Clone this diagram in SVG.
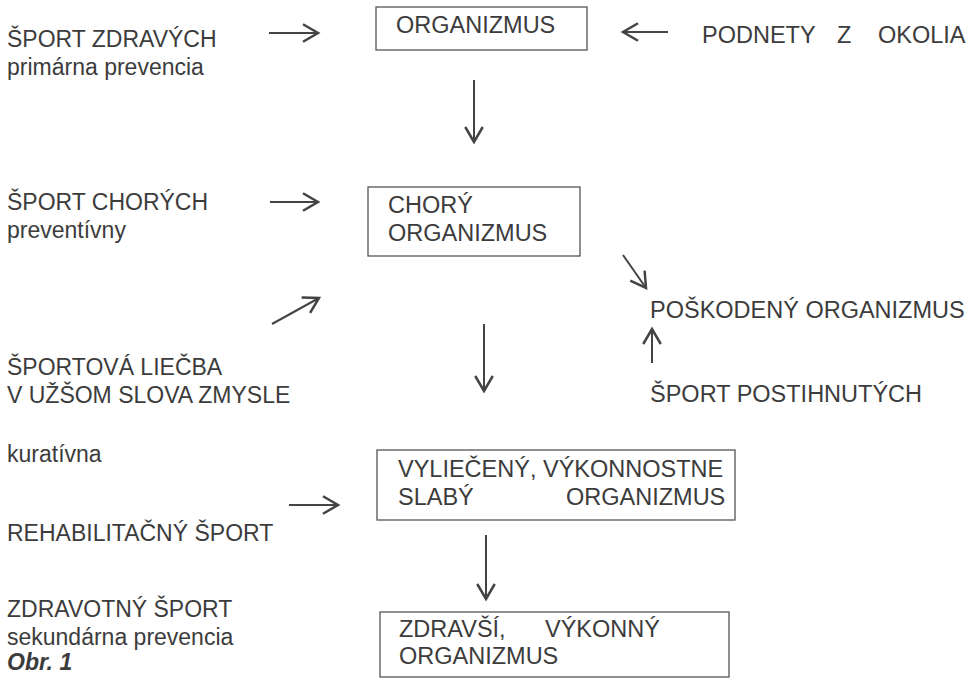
<svg xmlns="http://www.w3.org/2000/svg" width="978" height="679" viewBox="0 0 978 679">
<defs>
<style>
text{font-family:"Liberation Sans",Arial,sans-serif;font-size:23.5px;fill:#3c3c3c}
.lab{font-size:23px}
.box{fill:none;stroke:#555;stroke-width:1.3}
.con{fill:none;stroke:#444;stroke-width:2}
.obr{font-weight:bold;font-style:italic}
</style>
<marker id="ah" markerUnits="userSpaceOnUse" markerWidth="20" markerHeight="20" refX="13" refY="8" orient="auto" viewBox="0 0 16 16">
<path d="M1,1 L13,8 L1,15" fill="none" stroke="#444" stroke-width="2"/>
</marker>
</defs>
<rect width="978" height="679" fill="#fff"/>
<g id="labels">
<text class="lab" x="7" y="47">ŠPORT ZDRAVÝCH</text>
<text class="lab" x="7" y="75">primárna prevencia</text>
<text x="702" y="43">PODNETY</text>
<text x="837" y="43">Z</text>
<text x="878" y="43">OKOLIA</text>
<text class="lab" x="7" y="210">ŠPORT CHORÝCH</text>
<text class="lab" x="7" y="238">preventívny</text>
<text class="lab" x="7" y="375">ŠPORTOVÁ LIEČBA</text>
<text class="lab" x="7" y="403">V UŽŠOM SLOVA ZMYSLE</text>
<text class="lab" x="7" y="462">kuratívna</text>
<text class="lab" x="7" y="541">REHABILITAČNÝ ŠPORT</text>
<text class="lab" x="7" y="617">ZDRAVOTNÝ ŠPORT</text>
<text class="lab" x="7" y="645">sekundárna prevencia</text>
<text class="lab obr" x="7" y="670">Obr. 1</text>
</g>
<g id="node-organizmus">
<rect class="box" x="376" y="7" width="211" height="43"/>
<text x="396" y="33">ORGANIZMUS</text>
</g>
<g id="node-chory">
<rect class="box" x="368" y="187" width="212" height="69"/>
<text x="388" y="213">CHORÝ</text>
<text x="388" y="241">ORGANIZMUS</text>
</g>
<g id="node-poskodeny">
<text x="650" y="318">POŠKODENÝ ORGANIZMUS</text>
</g>
<g id="node-postihnutych">
<text x="650" y="402">ŠPORT POSTIHNUTÝCH</text>
</g>
<g id="node-vylieceny">
<rect class="box" x="377" y="450" width="358" height="70"/>
<text x="398" y="477">VYLIEČENÝ, VÝKONNOSTNE</text>
<text x="398" y="505">SLABÝ</text>
<text x="566" y="505">ORGANIZMUS</text>
</g>
<g id="node-zdravsi">
<rect class="box" x="380" y="612" width="349" height="65"/>
<text x="399" y="637">ZDRAVŠÍ,</text>
<text x="545" y="637">VÝKONNÝ</text>
<text x="399" y="664">ORGANIZMUS</text>
</g>
<g id="connectors">
<line class="con" x1="269" y1="33" x2="318" y2="33" marker-end="url(#ah)"/>
<line class="con" x1="668" y1="32" x2="623" y2="32" marker-end="url(#ah)"/>
<line class="con" x1="474" y1="80" x2="474" y2="142" marker-end="url(#ah)"/>
<line class="con" x1="270" y1="202" x2="318" y2="202" marker-end="url(#ah)"/>
<line class="con" x1="272" y1="324" x2="319" y2="298" marker-end="url(#ah)"/>
<line class="con" x1="623" y1="255" x2="646" y2="288" marker-end="url(#ah)"/>
<line class="con" x1="652" y1="363" x2="652" y2="329" marker-end="url(#ah)"/>
<line class="con" x1="484" y1="324" x2="484" y2="391" marker-end="url(#ah)"/>
<line class="con" x1="289" y1="505" x2="338" y2="505" marker-end="url(#ah)"/>
<line class="con" x1="486" y1="535" x2="486" y2="599" marker-end="url(#ah)"/>
</g>
</svg>
